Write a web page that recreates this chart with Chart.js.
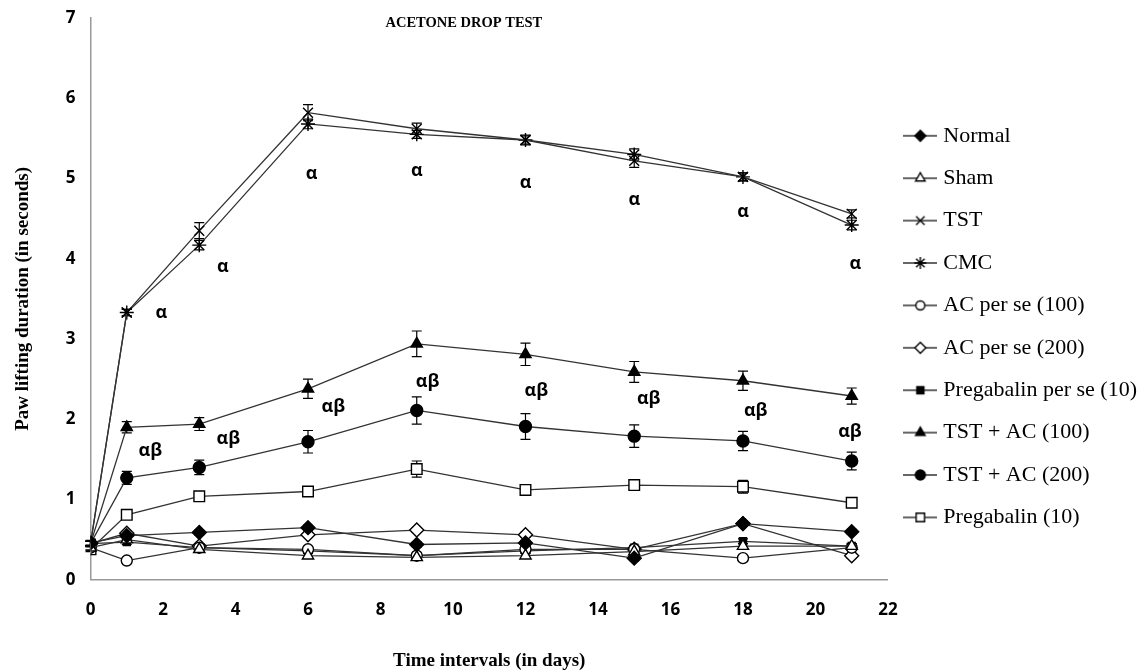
<!DOCTYPE html>
<html>
<head>
<meta charset="utf-8">
<script src="https://cdn.jsdelivr.net/npm/chart.js@4.4.1/dist/chart.umd.min.js"></script>
<style>
  html, body { margin: 0; padding: 0; background: #fff; }
  #wrap { width: 1148px; height: 672px; }
</style>
</head>
<body>
<div id="wrap"><canvas id="grafica"></canvas></div>
<script>
// time points (days) and group means
const days = [0, 1, 3, 6, 9, 12, 15, 18, 21];

const normal   = [0.46, 0.55, 0.59, 0.65, 0.44, 0.46, 0.27, 0.70, 0.60];
const sham     = [0.40, 0.50, 0.38, 0.30, 0.28, 0.30, 0.35, 0.42, 0.42];
const tst      = [0.45, 3.33, 4.35, 5.82, 5.62, 5.48, 5.22, 5.02, 4.56];
const cmc      = [0.45, 3.33, 4.17, 5.68, 5.55, 5.48, 5.30, 5.02, 4.42];
const acSe100  = [0.40, 0.24, 0.40, 0.38, 0.30, 0.38, 0.38, 0.27, 0.40];
const acSe200  = [0.45, 0.58, 0.42, 0.56, 0.62, 0.56, 0.38, 0.70, 0.30];
const pregSe   = [0.45, 0.47, 0.40, 0.36, 0.30, 0.36, 0.40, 0.48, 0.42];
const tstAc100 = [0.45, 1.90, 1.94, 2.38, 2.94, 2.81, 2.59, 2.48, 2.29];
const tstAc200 = [0.45, 1.27, 1.40, 1.72, 2.11, 1.91, 1.79, 1.73, 1.48];
const preg10   = [0.38, 0.81, 1.04, 1.10, 1.38, 1.12, 1.18, 1.16, 0.96];

// SEM
const errSmall    = [0.03, 0.03, 0.03, 0.03, 0.03, 0.03, 0.03, 0.03, 0.03];
const errTst      = [0.03, 0.04, 0.10, 0.10, 0.07, 0.06, 0.08, 0.05, 0.05];
const errCmc      = [0.03, 0.04, 0.06, 0.06, 0.05, 0.05, 0.07, 0.05, 0.06];
const errTstAc100 = [0.03, 0.07, 0.08, 0.12, 0.16, 0.14, 0.13, 0.12, 0.10];
const errTstAc200 = [0.03, 0.08, 0.09, 0.14, 0.17, 0.16, 0.14, 0.12, 0.11];
const errPreg10   = [0.03, 0.04, 0.06, 0.06, 0.10, 0.06, 0.06, 0.08, 0.05];

// significance marks (x in days, y in seconds)
const alphaX = [1.95, 3.65, 6.1, 9.0, 12.0, 15.0, 18.0, 21.1];
const alphaY = [3.33, 3.90, 5.06, 5.10, 4.94, 4.74, 4.58, 3.94];
const alphaBetaX = [1.65, 3.8, 6.7, 9.3, 12.3, 15.4, 18.35, 20.95];
const alphaBetaY = [1.61, 1.75, 2.15, 2.46, 2.35, 2.25, 2.10, 1.84];

const xTicks = [0, 2, 4, 6, 8, 10, 12, 14, 16, 18, 20, 22];

const lineColor = '#333';
const serif = '"Liberation Serif", "DejaVu Serif", serif';
const sans = '"Open Sans", "Liberation Sans", sans-serif';

const groups = [
  { label: 'Normal', data: normal, err: errSmall, style: 'rectRot', r: 7, fill: '#000', lr: 5.5 },
  { label: 'Sham', data: sham, err: errSmall, style: 'triangle', r: 6.5, fill: '#fff', lr: 5.5 },
  { label: 'TST', data: tst, err: errTst, style: 'crossRot', r: 7, fill: '#000', lr: 6 },
  { label: 'CMC', data: cmc, err: errCmc, style: 'star', r: 7, fill: '#000', lr: 6 },
  { label: 'AC per se (100)', data: acSe100, err: errSmall, style: 'circle', r: 5.5, fill: '#fff', lr: 4.5 },
  { label: 'AC per se (200)', data: acSe200, err: errSmall, style: 'rectRot', r: 7, fill: '#fff', lr: 5.5 },
  { label: 'Pregabalin per se (10)', data: pregSe, err: errSmall, style: 'rect', r: 5, fill: '#000', lr: 5 },
  { label: 'TST + AC (100)', data: tstAc100, err: errTstAc100, style: 'triangle', r: 6.5, fill: '#000', lr: 5.5 },
  { label: 'TST + AC (200)', data: tstAc200, err: errTstAc200, style: 'circle', r: 6, fill: '#000', lr: 5 },
  { label: 'Pregabalin (10)', data: preg10, err: errPreg10, style: 'rect', r: 7.5, fill: '#fff', lr: 6 }
];

// small line + marker picture for the legend
function legendIcon(g) {
  const c = document.createElement('canvas');
  c.width = 34; c.height = 20;
  const k = c.getContext('2d');
  k.strokeStyle = lineColor;
  k.lineWidth = 1.3;
  k.beginPath(); k.moveTo(0, 10); k.lineTo(34, 10); k.stroke();
  k.fillStyle = g.fill;
  k.strokeStyle = '#000';
  k.lineWidth = 1.4;
  Chart.helpers.drawPoint(k, { pointStyle: g.style, radius: g.lr, borderWidth: 1.4, rotation: 0 }, 17, 10);
  return c;
}

const errorBars = {
  id: 'errorBars',
  beforeDatasetsDraw(chart) {
    const { ctx, scales: { x, y } } = chart;
    ctx.save();
    ctx.strokeStyle = '#000';
    ctx.lineWidth = 1.2;
    groups.forEach(g => {
      g.data.forEach((v, i) => {
        const px = x.getPixelForValue(days[i]);
        const top = y.getPixelForValue(v + g.err[i]);
        const bot = y.getPixelForValue(v - g.err[i]);
        ctx.beginPath();
        ctx.moveTo(px, top); ctx.lineTo(px, bot);
        ctx.moveTo(px - 5, top); ctx.lineTo(px + 5, top);
        ctx.moveTo(px - 5, bot); ctx.lineTo(px + 5, bot);
        ctx.stroke();
      });
    });
    ctx.restore();
  }
};

const marks = {
  id: 'marks',
  afterDatasetsDraw(chart) {
    const { ctx, chartArea, scales: { x, y } } = chart;
    ctx.save();
    ctx.fillStyle = '#000';
    ctx.textAlign = 'center';
    ctx.textBaseline = 'middle';
    ctx.font = 'bold 18px ' + sans;
    alphaX.forEach((v, i) => ctx.fillText('α', x.getPixelForValue(v), y.getPixelForValue(alphaY[i])));
    alphaBetaX.forEach((v, i) => ctx.fillText('αβ', x.getPixelForValue(v), y.getPixelForValue(alphaBetaY[i])));
    // chart heading
    ctx.font = 'bold 14.5px ' + serif;
    ctx.fillText('ACETONE DROP TEST', x.getPixelForValue(10.3), chartArea.top + 5);
    ctx.restore();
  }
};

const icons = groups.map(legendIcon);

new Chart(document.getElementById('grafica'), {
  type: 'line',
  data: {
    datasets: groups.map(g => ({
      label: g.label,
      data: g.data.map((v, i) => ({ x: days[i], y: v })),
      borderColor: lineColor,
      borderWidth: 1.3,
      pointStyle: g.style,
      pointRadius: g.r,
      pointBackgroundColor: g.fill,
      pointBorderColor: '#000',
      pointBorderWidth: 1.4,
      tension: 0
    }))
  },
  options: {
    responsive: true,
    maintainAspectRatio: false,
    animation: false,
    layout: { padding: { left: 10, right: 1, top: 4, bottom: 0 } },
    plugins: {
      tooltip: { enabled: false },
      legend: {
        position: 'right',
        align: 'start',
        title: { display: true, text: ' ', font: { size: 12 }, padding: { top: 84, bottom: 2 } },
        labels: {
          usePointStyle: true,
          pointStyleWidth: 24,
          padding: 20.4,
          color: '#000',
          font: { family: serif, size: 22 },
          generateLabels: chart => groups.map((g, i) => ({
            text: g.label,
            pointStyle: icons[i],
            datasetIndex: i,
            lineWidth: 0,
            fillStyle: '#fff',
            strokeStyle: '#fff',
            fontColor: '#000'
          }))
        }
      }
    },
    scales: {
      x: {
        type: 'linear',
        min: 0,
        max: 22,
        afterBuildTicks: axis => { axis.ticks = xTicks.map(v => ({ value: v })); },
        grid: { display: false, drawTicks: false },
        border: { color: '#999', width: 1.5 },
        ticks: { color: '#000', padding: 20, font: { family: sans, size: 17, weight: 'bold' } },
        title: {
          display: true,
          text: 'Time intervals (in days)',
          color: '#000',
          font: { family: serif, size: 19, weight: 'bold' },
          padding: { top: 9, bottom: 0 }
        }
      },
      y: {
        min: 0,
        max: 7,
        afterFit: axis => { axis.paddingTop = 18; },
        ticks: { stepSize: 1, color: '#000', padding: 15, font: { family: sans, size: 17, weight: 'bold' } },
        grid: { display: false, drawTicks: false },
        border: { color: '#999', width: 1.5 },
        title: {
          display: true,
          text: 'Paw lifting duration (in seconds)',
          color: '#000',
          font: { family: serif, size: 19, weight: 'bold' },
          padding: { top: 2, bottom: 16 }
        }
      }
    }
  },
  plugins: [errorBars, marks]
});
</script>
</body>
</html>
